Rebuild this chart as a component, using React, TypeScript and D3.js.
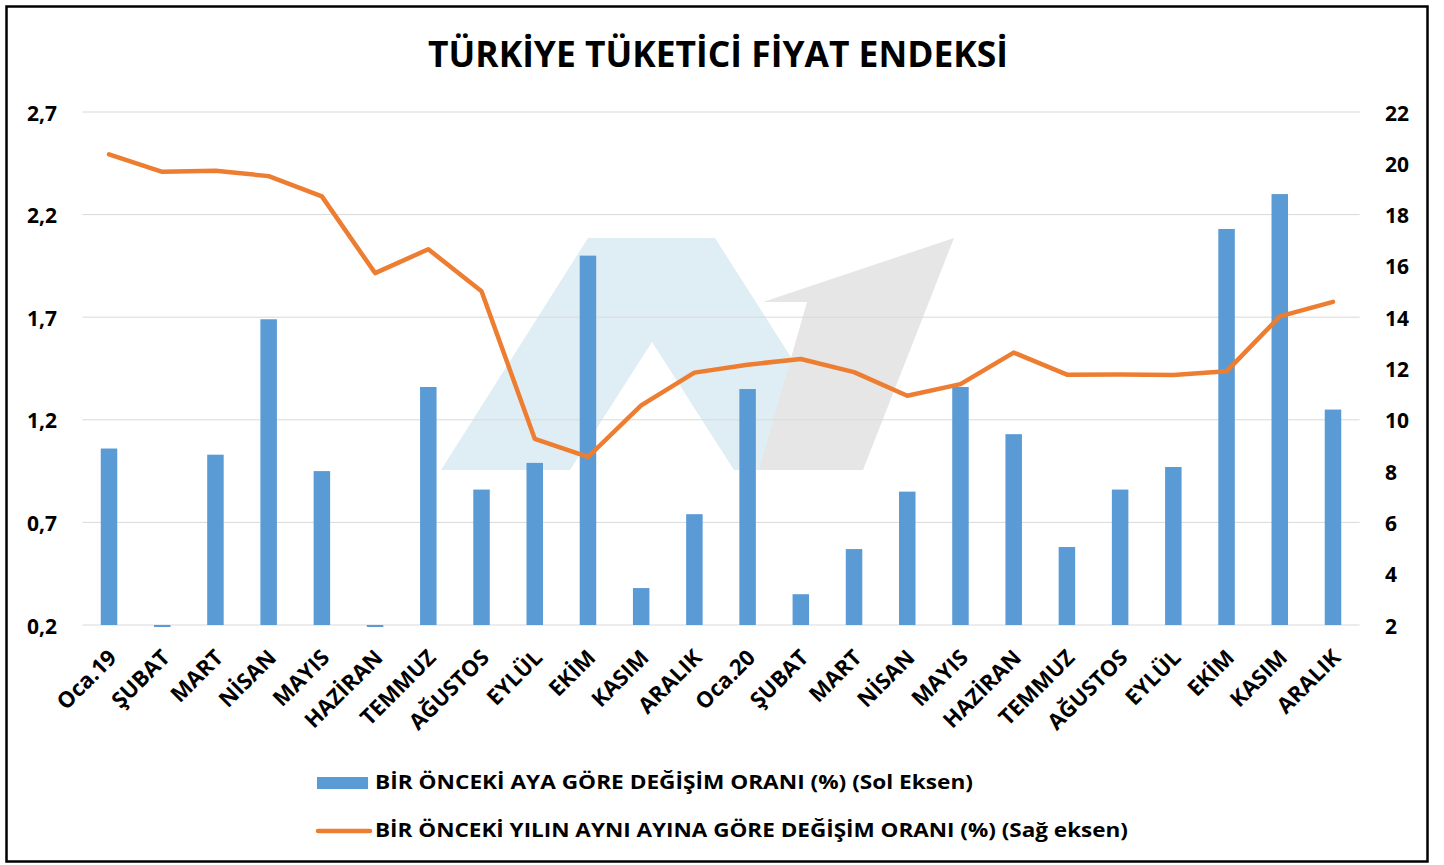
import React from 'react';
import { scaleBand, scaleLinear, line } from 'd3';

// month labels (two years, names repeat so the band domain uses indices)
const categories = [
  'Oca.19', 'ŞUBAT', 'MART', 'NİSAN', 'MAYIS', 'HAZİRAN', 'TEMMUZ', 'AĞUSTOS', 'EYLÜL', 'EKİM', 'KASIM', 'ARALIK',
  'Oca.20', 'ŞUBAT', 'MART', 'NİSAN', 'MAYIS', 'HAZİRAN', 'TEMMUZ', 'AĞUSTOS', 'EYLÜL', 'EKİM', 'KASIM', 'ARALIK',
];
// monthly change (%), left axis
const monthly = [
  1.06, 0.16, 1.03, 1.69, 0.95, 0.03, 1.36, 0.86, 0.99, 2.0, 0.38, 0.74,
  1.35, 0.35, 0.57, 0.85, 1.36, 1.13, 0.58, 0.86, 0.97, 2.13, 2.3, 1.25,
];
// yearly change (%), right axis
const yearly = [
  20.35, 19.67, 19.71, 19.5, 18.71, 15.72, 16.65, 15.01, 9.26, 8.55, 10.56, 11.84,
  12.15, 12.37, 11.86, 10.94, 11.39, 12.62, 11.76, 11.77, 11.75, 11.89, 14.03, 14.6,
];
const leftTicks = [0.2, 0.7, 1.2, 1.7, 2.2, 2.7];
const rightTicks = [2, 4, 6, 8, 10, 12, 14, 16, 18, 20, 22];

const title = 'TÜRKİYE TÜKETİCİ FİYAT ENDEKSİ';
const barLegend = 'BİR ÖNCEKİ AYA GÖRE DEĞİŞİM ORANI (%) (Sol Eksen)';
const lineLegend = 'BİR ÖNCEKİ YILIN AYNI AYINA GÖRE DEĞİŞİM ORANI (%) (Sağ eksen)';

const W = 1444;
const H = 865;
const plot = { left: 82.4, right: 1359.6, top: 112, bottom: 625 };
const font = "'Open Sans', 'DejaVu Sans', sans-serif";
const blue = '#5B9BD5';
const orange = '#ED7D31';

// background logo (decoration only)
const logoA = [[441, 470], [588, 238], [715, 238], [863, 470], [734, 470], [652, 342], [570, 470]];
const logoArrow = [[759, 470], [863, 470], [954, 238], [763, 302], [807, 302]];

export default function App() {
  const x = scaleBand<number>()
    .domain(categories.map((_, i) => i))
    .range([plot.left, plot.right])
    .paddingInner(0.69)
    .paddingOuter(0.345);
  const yL = scaleLinear().domain([0.2, 2.7]).range([plot.bottom, plot.top]);
  const yR = scaleLinear().domain([2, 22]).range([plot.bottom, plot.top]);

  const path = line<number>()
    .x((_, i) => (x(i) ?? 0) + x.bandwidth() / 2)
    .y(d => yR(d))(yearly);

  const fmt = (v: number) => v.toFixed(1).replace('.', ',');
  const pts = (p: number[][]) => p.map(q => q.join(',')).join(' ');

  return (
    <svg width={W} height={H} style={{ position: 'absolute', left: 0, top: 0 }} fontFamily={font}>
      <rect x={0} y={0} width={W} height={H} fill='#fff' />
      <rect x={6.5} y={6.5} width={1421} height={855} fill='none' stroke='#000' strokeWidth={2.5} />

      <text x={718} y={67} textAnchor='middle' fontSize={36} fontWeight={700} textLength={580} lengthAdjust='spacingAndGlyphs'>
        {title}
      </text>

      <polygon points={pts(logoA)} fill='#DFEEF5' />
      <polygon points={pts(logoArrow)} fill='#E6E6E6' />

      <defs>
        <clipPath id='plotClip'>
          <rect x={plot.left} y={plot.top - 5} width={plot.right - plot.left} height={plot.bottom - plot.top + 7} />
        </clipPath>
      </defs>

      {leftTicks.map(t => (
        <line key={t} x1={plot.left} x2={plot.right} y1={yL(t)} y2={yL(t)} stroke='#D9D9D9' strokeWidth={1} />
      ))}

      <g clipPath='url(#plotClip)'>
        {monthly.map((v, i) => {
          const y0 = yL(0.2);
          const y1 = yL(v);
          return (
            <rect key={i} x={x(i)} width={x.bandwidth()} y={Math.min(y0, y1)} height={Math.abs(y0 - y1)} fill={blue} />
          );
        })}
      </g>

      <path d={path ?? ''} fill='none' stroke={orange} strokeWidth={4.5} strokeLinejoin='round' strokeLinecap='round' />

      {leftTicks.map(t => (
        <text key={t} x={57} y={yL(t) + 8.5} textAnchor='end' fontSize={21} fontWeight={700}>
          {fmt(t)}
        </text>
      ))}
      {rightTicks.map(t => (
        <text key={t} x={1385} y={yR(t) + 8.5} textAnchor='start' fontSize={21} fontWeight={700}>
          {t}
        </text>
      ))}

      {categories.map((c, i) => (
        <text
          key={i}
          transform={`translate(${(x(i) ?? 0) + x.bandwidth() / 2 + 9},${659}) rotate(-45)`}
          textAnchor='end'
          fontSize={22}
          fontWeight={700}
        >
          {c}
        </text>
      ))}

      <rect x={317} y={777} width={51} height={12} fill={blue} />
      <text x={375} y={789} fontSize={20} fontWeight={700} textLength={598} lengthAdjust='spacingAndGlyphs'>
        {barLegend}
      </text>
      <line x1={318} x2={370} y1={831} y2={831} stroke={orange} strokeWidth={4.5} strokeLinecap='round' />
      <text x={375} y={837} fontSize={20} fontWeight={700} textLength={753} lengthAdjust='spacingAndGlyphs'>
        {lineLegend}
      </text>
    </svg>
  );
}
